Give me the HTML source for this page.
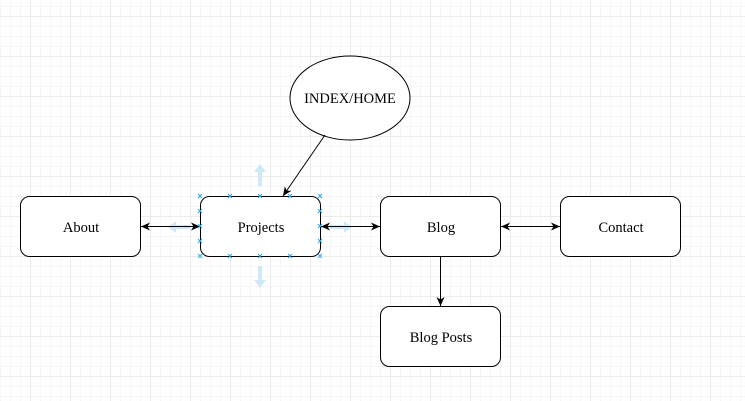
<!DOCTYPE html>
<html><head><meta charset="utf-8"><style>
html,body{margin:0;padding:0;background:#fff;}
svg{display:block;}
text{font-family:"Liberation Serif",serif;font-size:14.5px;fill:#000;}
</style></head><body>
<svg width="745" height="401" viewBox="0 0 745 401" xmlns="http://www.w3.org/2000/svg">
<defs>
<pattern id="minor" width="10" height="10" patternUnits="userSpaceOnUse" x="0" y="6">
<path d="M0 0.5H10M0.5 0V10" stroke="#f6f6f6" stroke-width="1" fill="none"/>
</pattern>
<pattern id="major" width="40" height="40" patternUnits="userSpaceOnUse" x="30" y="16">
<path d="M0 0.5H40M0.5 0V40" stroke="#ebebeb" stroke-width="1" fill="none"/>
</pattern>
<marker id="ah" markerWidth="10" markerHeight="10" refX="9" refY="5" orient="auto" markerUnits="userSpaceOnUse">
<path d="M0 1 L9 5 L0 9 L2.5 5 Z" fill="#000"/>
</marker>
<marker id="as" markerWidth="10" markerHeight="10" refX="1" refY="5" orient="auto" markerUnits="userSpaceOnUse">
<path d="M10 1 L1 5 L10 9 L7.5 5 Z" fill="#000"/>
</marker>
</defs>
<rect width="745" height="401" fill="url(#minor)"/>
<rect width="745" height="401" fill="url(#major)"/>

<g fill="#cfe9f8">
<path d="M260 164 L266 172 L262 172 L262 186 L258 186 L258 172 L254 172 Z"/>
<path d="M260 288 L266 280 L262 280 L262 266 L258 266 L258 280 L254 280 Z"/>
<path d="M168 227 L176 221 L176 225 L190 225 L190 229 L176 229 L176 233 Z"/>
<path d="M352 227 L344 221 L344 225 L330 225 L330 229 L344 229 L344 233 Z"/>
</g>

<ellipse cx="350" cy="98" rx="60" ry="42" fill="#fff" stroke="#000" stroke-width="1"/>
<text x="350" y="103" text-anchor="middle">INDEX/HOME</text>

<g fill="#fff" stroke="#000" stroke-width="1">
<rect x="20.5" y="196.5" width="120" height="60" rx="9"/>
<rect x="200.5" y="196.5" width="120" height="60" rx="9"/>
<rect x="380.5" y="196.5" width="120" height="60" rx="9"/>
<rect x="560.5" y="196.5" width="120" height="60" rx="9"/>
<rect x="380.5" y="306.5" width="120" height="60" rx="9"/>
</g>
<text x="81" y="232" text-anchor="middle">About</text>
<text x="261" y="232" text-anchor="middle">Projects</text>
<text x="441" y="232" text-anchor="middle">Blog</text>
<text x="621" y="232" text-anchor="middle">Contact</text>
<text x="441" y="342" text-anchor="middle">Blog Posts</text>

<g stroke="#000" stroke-width="1" fill="none">
<line x1="325" y1="135" x2="283" y2="196" marker-end="url(#ah)"/>
<line x1="141" y1="226.5" x2="200" y2="226.5" marker-start="url(#as)" marker-end="url(#ah)"/>
<line x1="321" y1="226.5" x2="380" y2="226.5" marker-start="url(#as)" marker-end="url(#ah)"/>
<line x1="501" y1="226.5" x2="560" y2="226.5" marker-start="url(#as)" marker-end="url(#ah)"/>
<line x1="440.5" y1="257" x2="440.5" y2="306" marker-end="url(#ah)"/>
</g>

<g stroke="#29a8e0" stroke-width="1">
<path d="M198 194l4 4M202 194l-4 4 M228 194l4 4M232 194l-4 4 M258 194l4 4M262 194l-4 4 M288 194l4 4M292 194l-4 4 M318 194l4 4M322 194l-4 4
M198 254l4 4M202 254l-4 4 M228 254l4 4M232 254l-4 4 M258 254l4 4M262 254l-4 4 M288 254l4 4M292 254l-4 4 M318 254l4 4M322 254l-4 4
M198 209l4 4M202 209l-4 4 M198 224l4 4M202 224l-4 4 M198 239l4 4M202 239l-4 4
M318 209l4 4M322 209l-4 4 M318 224l4 4M322 224l-4 4 M318 239l4 4M322 239l-4 4"/>
</g>
</svg>
</body></html>
